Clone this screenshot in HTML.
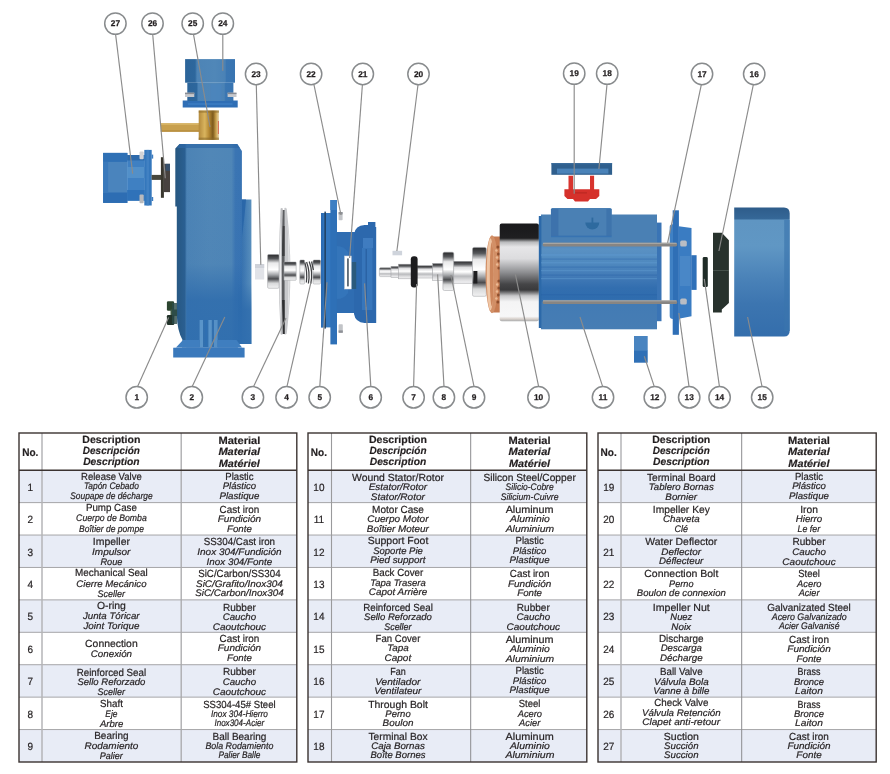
<!DOCTYPE html>
<html lang="en"><head><meta charset="utf-8"><title>Pump exploded view - parts list</title>
<style>
html,body{margin:0;padding:0;background:#fff;}
body{width:890px;height:774px;position:relative;overflow:hidden;font-family:"Liberation Sans",sans-serif;color:#231f20;}
svg{display:block}
svg text{font-family:"Liberation Sans",sans-serif;text-rendering:geometricPrecision;}
.e{fill:#231f20;stroke:#231f20;stroke-width:0.2px;}
.i{fill:#231f20;font-style:italic;stroke:#231f20;stroke-width:0.2px;}
.hb{fill:#231f20;font-weight:bold;stroke:#231f20;stroke-width:0.18px;}
.hi{fill:#231f20;font-weight:bold;font-style:italic;stroke:#231f20;stroke-width:0.18px;}
.n{fill:#231f20;stroke:#231f20;stroke-width:0.2px;}
</style></head><body>

<svg width="890" height="425" viewBox="0 0 890 425" style="position:absolute;left:0;top:0;will-change:transform">
<defs>
  <!-- horizontal blue gradients (left->right) -->
  <linearGradient id="bCase" gradientUnits="userSpaceOnUse" x1="175.4" x2="251.3" y1="0" y2="0">
    <stop offset="0" stop-color="#275780"/>
    <stop offset="0.125" stop-color="#2a5f92"/>
    <stop offset="0.15" stop-color="#4c83b5"/>
    <stop offset="0.45" stop-color="#5187b7"/>
    <stop offset="0.74" stop-color="#4f86b7"/>
    <stop offset="0.79" stop-color="#3b75b3"/>
    <stop offset="1" stop-color="#3471b2"/>
  </linearGradient>
  <linearGradient id="caseDark" x1="0" x2="0" y1="0" y2="1">
    <stop offset="0" stop-color="#2c6aab" stop-opacity="0"/>
    <stop offset="0.58" stop-color="#2c6aab" stop-opacity="0.05"/>
    <stop offset="0.76" stop-color="#2d6bac" stop-opacity="0.8"/>
    <stop offset="1" stop-color="#2e6dae" stop-opacity="0.9"/>
  </linearGradient>
  <linearGradient id="volute" x1="0" x2="1" y1="0" y2="0">
    <stop offset="0" stop-color="#2d68a6"/>
    <stop offset="0.45" stop-color="#3f79b3"/>
    <stop offset="1" stop-color="#5a90bd"/>
  </linearGradient>
  <linearGradient id="bV" x1="0" x2="0" y1="0" y2="1">
    <stop offset="0" stop-color="#3f7fbf"/>
    <stop offset="0.35" stop-color="#4a88c3"/>
    <stop offset="0.6" stop-color="#3b7bbc"/>
    <stop offset="1" stop-color="#2e70b5"/>
  </linearGradient>
  <linearGradient id="bMotor" x1="0" x2="0" y1="0" y2="1">
    <stop offset="0" stop-color="#4a80b4"/>
    <stop offset="0.24" stop-color="#4a80b4"/>
    <stop offset="0.3" stop-color="#5a91c3"/>
    <stop offset="0.42" stop-color="#4f89bf"/>
    <stop offset="0.55" stop-color="#4179b6"/>
    <stop offset="0.64" stop-color="#326eaf"/>
    <stop offset="0.73" stop-color="#2f6cae"/>
    <stop offset="0.78" stop-color="#437bb4"/>
    <stop offset="1" stop-color="#467db4"/>
  </linearGradient>
  <linearGradient id="bCover" x1="0" x2="0" y1="0" y2="1">
    <stop offset="0" stop-color="#2e5c8a"/>
    <stop offset="0.085" stop-color="#356797"/>
    <stop offset="0.10" stop-color="#5f95c2"/>
    <stop offset="0.3" stop-color="#6097c4"/>
    <stop offset="0.55" stop-color="#4a82b8"/>
    <stop offset="0.75" stop-color="#3c75b0"/>
    <stop offset="1" stop-color="#346eac"/>
  </linearGradient>
  <linearGradient id="bDis" x1="0" x2="1" y1="0" y2="0">
    <stop offset="0" stop-color="#2c6499"/>
    <stop offset="0.2" stop-color="#2d679d"/>
    <stop offset="0.24" stop-color="#4d84b6"/>
    <stop offset="0.6" stop-color="#5087b8"/>
    <stop offset="0.8" stop-color="#4a82b6"/>
    <stop offset="0.83" stop-color="#3a76b2"/>
    <stop offset="1" stop-color="#3874b1"/>
  </linearGradient>
  <linearGradient id="brass" x1="0" x2="1" y1="0" y2="0">
    <stop offset="0" stop-color="#b48a3c"/>
    <stop offset="0.3" stop-color="#d9b45e"/>
    <stop offset="0.5" stop-color="#b68a35"/>
    <stop offset="0.7" stop-color="#7d5a1c"/>
    <stop offset="0.85" stop-color="#c9a04c"/>
    <stop offset="1" stop-color="#e8d9b0"/>
  </linearGradient>
  <linearGradient id="chromeV" x1="0" x2="0" y1="0" y2="1">
    <stop offset="0" stop-color="#2a2a2c"/>
    <stop offset="0.12" stop-color="#55575a"/>
    <stop offset="0.25" stop-color="#e9e9ea"/>
    <stop offset="0.45" stop-color="#ffffff"/>
    <stop offset="0.6" stop-color="#a4a6a9"/>
    <stop offset="0.72" stop-color="#4a4b4e"/>
    <stop offset="0.85" stop-color="#d8d9da"/>
    <stop offset="1" stop-color="#f2f2f3"/>
  </linearGradient>
  <linearGradient id="shaftV" x1="0" x2="0" y1="0" y2="1">
    <stop offset="0" stop-color="#2b2b2d"/>
    <stop offset="0.14" stop-color="#5f6063"/>
    <stop offset="0.28" stop-color="#dedee0"/>
    <stop offset="0.48" stop-color="#ffffff"/>
    <stop offset="0.68" stop-color="#b9babd"/>
    <stop offset="0.84" stop-color="#dcdcde"/>
    <stop offset="1" stop-color="#f4f4f5"/>
  </linearGradient>
  <linearGradient id="statorV" x1="0" x2="0" y1="0" y2="1">
    <stop offset="0" stop-color="#19191b"/>
    <stop offset="0.15" stop-color="#1f1f21"/>
    <stop offset="0.19" stop-color="#b9babc"/>
    <stop offset="0.24" stop-color="#e6e6e8"/>
    <stop offset="0.36" stop-color="#dcdcde"/>
    <stop offset="0.5" stop-color="#8d8e91"/>
    <stop offset="0.62" stop-color="#454547"/>
    <stop offset="0.68" stop-color="#3a3a3c"/>
    <stop offset="0.74" stop-color="#c9c9cb"/>
    <stop offset="0.8" stop-color="#f4f4f5"/>
    <stop offset="0.95" stop-color="#f7f7f8"/>
    <stop offset="0.975" stop-color="#d9d2cd"/>
    <stop offset="1" stop-color="#a9aaac"/>
  </linearGradient>
  <linearGradient id="copperV" x1="0" x2="0" y1="0" y2="1">
    <stop offset="0" stop-color="#b5673a"/>
    <stop offset="0.25" stop-color="#d98a55"/>
    <stop offset="0.5" stop-color="#b96a3c"/>
    <stop offset="0.8" stop-color="#e6a070"/>
    <stop offset="1" stop-color="#f0c8a0"/>
  </linearGradient>
  <linearGradient id="impV" x1="0" x2="1" y1="0" y2="0">
    <stop offset="0" stop-color="#d9dadb"/>
    <stop offset="0.3" stop-color="#f4f4f5"/>
    <stop offset="0.5" stop-color="#6d6e71"/>
    <stop offset="0.7" stop-color="#e6e6e7"/>
    <stop offset="1" stop-color="#c4c5c7"/>
  </linearGradient>
</defs>

<!-- ================= PARTS ================= -->
<g id="parts">
  <!-- 27 suction -->
  <rect x="103.1" y="152.9" width="24.3" height="50" fill="#4a84bd"/>
  <rect x="103.1" y="152.9" width="24.3" height="9" fill="#2f70b5"/>
  <rect x="103.1" y="192.5" width="24.3" height="10.4" fill="#2d6db3"/>
  <rect x="103.1" y="161.9" width="5" height="30.6" fill="#3a79bb"/>
  <rect x="127.2" y="155" width="17.5" height="45.7" fill="#3f80c2"/>
  <rect x="127.2" y="155" width="17.5" height="5.5" fill="#2d6aab"/>
  <rect x="127.2" y="167" width="17.5" height="11" fill="#5a96cb" opacity="0.75"/>
  <rect x="127.2" y="190" width="17.5" height="10.7" fill="#2f72b9"/>
  <rect x="144.3" y="149.9" width="7.4" height="55.6" fill="#3477bc"/>
  <rect x="146.5" y="149.9" width="2.4" height="55.6" fill="#4786c6" opacity="0.7"/>
  <rect x="151.6" y="154.6" width="1.6" height="4" fill="#3c7cbf"/><rect x="151.6" y="197" width="1.6" height="4" fill="#3c7cbf"/>
  <rect x="139.5" y="151.6" width="4.2" height="7.6" rx="1" fill="#d2d3d6"/>
  <rect x="139.5" y="194.6" width="4.2" height="8.6" rx="1" fill="#b9babd"/>

  <!-- 26 check valve -->
  <rect x="151.6" y="174.9" width="10.4" height="5" fill="#47473d"/>
  <rect x="160.9" y="157.2" width="3" height="40.6" fill="#39372f"/>
  <rect x="163.8" y="163.8" width="6.2" height="28.3" fill="#48423f"/>
  <rect x="165.5" y="163.8" width="4.5" height="7" fill="#2f557f" opacity="0.7"/>

  <!-- 25 ball valve (brass) -->
  <rect x="160.8" y="123.3" width="38.5" height="8.4" fill="#c8a04e"/>
  <rect x="160.8" y="123.3" width="38.5" height="1.6" fill="#d8b567"/>
  <rect x="160.8" y="130.3" width="38.5" height="1.4" fill="#b58c3e"/>
  <rect x="198.7" y="110.5" width="20.3" height="29.4" fill="url(#brass)"/>
  <rect x="198.7" y="110.5" width="20.3" height="2.2" fill="#8a6a2a" opacity="0.55"/>
  <rect x="198.7" y="137.6" width="20.3" height="2.3" fill="#8a6a2a" opacity="0.55"/>
  <rect x="217.9" y="121" width="1.1" height="13" fill="#d2503f" opacity="0.7"/>

  <!-- 24 discharge -->
  <rect x="185.1" y="59.1" width="49.9" height="23.6" fill="url(#bDis)"/>
  <rect x="187.3" y="82.6" width="46.1" height="18.4" fill="url(#bDis)"/>
  <rect x="210.5" y="84" width="11" height="17" fill="#4a85be" opacity="0.7"/>
  <path d="M182.7,100.5 L188.2,100.5 L188.2,100.9 L232.2,100.9 L232.2,100.5 L237.7,100.5 L237.7,107.4 L182.7,107.4 Z" fill="#2f6eb5"/>
  <rect x="188" y="103.2" width="44.5" height="1.6" fill="#3f80c4" opacity="0.8"/>
  <rect x="185" y="92.7" width="9.3" height="4.3" fill="#c6c8cc"/>
  <rect x="185" y="92.7" width="9.3" height="1.4" fill="#878b93"/>
  <rect x="227.6" y="92.7" width="8.9" height="4.3" fill="#c6c8cc"/>
  <rect x="227.6" y="92.7" width="8.9" height="1.4" fill="#878b93"/>

  <!-- 2 pump case -->
  <path d="M241.5,199.6 L251.4,199.6 L251.4,344 L238,344 L238,199.6 Z" fill="url(#volute)"/>
  <path d="M241.5,199.6 L246,199.6 Q243,235 238,262 L238,199.6 Z" fill="#2a67a9"/>
  <path d="M179.5,144 L237.3,144 L241.9,151 L241.9,344 L236.5,344 L238,347.5 L182,347.5 L182.5,340 Q177,330 176.8,314 L176.8,206.4 L175.3,206.4 L175.3,148.5 Z" fill="url(#bCase)"/>
  <path d="M186.2,148 L240,148 L241.9,151 L241.9,344 L236.5,344 L238,347.5 L186.2,347.5 Z" fill="url(#caseDark)"/>
  <path d="M238,262 Q243,235 246,199.6 L251.4,199.6 L251.4,344 L238,344 Z" fill="url(#caseDark)"/>
  <path d="M179.5,144 L237.3,144 L240,148 L177,148 Z" fill="#2d68a6" opacity="0.7"/>
  <rect x="199.6" y="320" width="3.4" height="27" fill="#5a94c9"/>
  <rect x="205.4" y="320" width="1.5" height="27" fill="#2f6fb3"/>
  <rect x="208.4" y="320" width="3.4" height="27" fill="#5a94c9"/>
  <rect x="214" y="320" width="3.6" height="27" fill="#5690c6"/>
  <path d="M182,347.5 L173.2,347.7 L173.2,357.4 L244.6,357.4 L244.6,347.7 L238,347.5 Z" fill="#3a79bc"/>
  <path d="M183,340 L199.6,340 L199.6,347.6 L176,347.6 Z" fill="#3f7ebf"/>
  <path d="M217.6,340 L236.5,340 L242,347.6 L217.6,347.6 Z" fill="#3f7ebf"/>

  <!-- 1 release valve -->
  <rect x="166.9" y="301.3" width="7.2" height="9.4" rx="1.2" fill="#2c4530"/>
  <rect x="170.5" y="309.5" width="6.6" height="6.5" fill="#3f5a45"/>
  <rect x="166.9" y="315" width="7.4" height="10" rx="1.2" fill="#22332a"/>
  <rect x="172" y="303" width="5" height="21" fill="#2a4a48" opacity="0.8"/>

  <!-- 23 nut -->
  <rect x="255" y="264" width="9.2" height="15.5" fill="#e1e3e8"/>
  <rect x="255" y="264" width="9.2" height="4" fill="#cfd2d9"/>

  <!-- 3 impeller -->
  <rect x="267.6" y="254.5" width="11.5" height="33.8" rx="1.2" fill="url(#chromeV)" stroke="#a4a5a8" stroke-width="0.55"/>
  <!-- right plate -->
  <path d="M284.4,208 Q286,207.4 286.8,209 Q290.4,240 290.4,271.5 Q290.4,303 286.8,333.4 Q286,335 284.4,334.4 Z" fill="#c8c9cc"/>
  <path d="M287.6,222 Q289.6,246 289.6,271.5 Q289.6,297 287.6,321 Q288.6,297 288.6,271.5 Q288.6,246 287.6,222Z" fill="#eeeeef"/>
  <!-- gap (dark) -->
  <path d="M282.2,210 L284.6,210 L284.6,334 L282.2,334 Q281.4,300 281.4,271.5 Q281.4,242 282.2,210 Z" fill="#5d5e61"/>
  <path d="M282,300 L284.6,300 L284.6,334 L282.6,334 Q281.8,318 282,300 Z" fill="#2e2f31"/>
  <path d="M282.4,226 L284.6,226 L284.6,256 L282,256 Z" fill="#3d3e40"/>
  <!-- left plate -->
  <path d="M280.6,208.4 Q281.8,207.4 282.8,208.6 Q281.8,240 281.8,271.5 Q281.8,303 282.8,334 Q281.8,335.2 280.6,334.2 Q278.9,303 278.9,271.5 Q278.9,240 280.6,208.4 Z" fill="#bdbec1"/>
  <path d="M280.6,214 Q279.7,242 279.7,271.5 Q279.7,301 280.6,328 Q280.9,301 280.9,271.5 Q280.9,242 280.6,214 Z" fill="#f2f2f3"/>
  <rect x="284" y="262" width="12.2" height="18.3" rx="0.8" fill="url(#chromeV)" stroke="#a4a5a8" stroke-width="0.55"/>

  <!-- 4 mechanical seal -->
  <rect x="299.8" y="260" width="4.8" height="24" rx="1" fill="url(#chromeV)" stroke="#a4a5a8" stroke-width="0.55"/>
  <rect x="313" y="260" width="7.6" height="24" rx="1.2" fill="url(#chromeV)" stroke="#a4a5a8" stroke-width="0.55"/>
  <path d="M304.8,262.5 Q307.6,272 306.4,282.5 M306.6,262 Q310.4,272 308.4,283.5 M309.2,261.5 Q313.2,272 310.8,283.5 M311.6,261.5 L313.4,270" fill="none" stroke="#3f4043" stroke-width="1.25"/>

  <!-- 5 back cover / 6 connection -->
  <rect x="321" y="213" width="10" height="114.4" fill="#3478bf"/>
  <rect x="321" y="213" width="2.2" height="114.4" fill="#2b6cb4"/>
  <rect x="324.4" y="211.6" width="1.5" height="117" fill="#213f5e"/>
  <rect x="330.4" y="200" width="6.6" height="144.4" fill="#2e70b7"/>
  <rect x="330.4" y="200" width="6.6" height="10" fill="#3d7fc3"/>
  <path d="M336.8,232 L356,232 L356,313 L336.8,313 Z" fill="#2f6db2"/>
  <path d="M336.8,246 Q344,246 348,252 L348,293 Q344,299 336.8,299 Z" fill="#3475ba"/>
  <path d="M354,234 Q355.4,225.4 364.6,225 L368,225 L368,222 L375.4,222 L375.4,227 L376.2,227 L376.2,323 L364.6,323 Q355.4,322.4 354,314 Z" fill="#2c68ad"/>
  <rect x="362" y="248" width="10.4" height="62" fill="#3a79bd" opacity="0.85"/>
  <rect x="363" y="238" width="10" height="10" fill="#3f7cc0"/>
  <rect x="365.6" y="249" width="1.2" height="58" fill="#285fa0"/>
  <rect x="351.6" y="262" width="4.6" height="27" fill="#2b5873" opacity="0.85"/>
  <rect x="344.6" y="256" width="6.6" height="33" fill="#ffffff" stroke="#d5d8de" stroke-width="0.5"/>
  <rect x="347.2" y="258.4" width="1.5" height="28" fill="#3b4a57"/>
  <rect x="338.6" y="212" width="4" height="8.2" rx="0.8" fill="#c2c4c8"/>
  <rect x="338.6" y="212" width="4" height="2.4" fill="#8e9197"/>
  <rect x="338.6" y="324.2" width="4.2" height="8.6" rx="0.8" fill="#c2c4c8"/>
  <rect x="338.6" y="330.4" width="4.2" height="2.4" fill="#8e9197"/>

  <!-- 20 key -->
  <rect x="392.5" y="250.8" width="9.6" height="4.5" fill="#cfd4dc"/>

  <!-- 8 shaft -->
  <rect x="379.4" y="267.8" width="12" height="8.8" rx="1.2" fill="url(#shaftV)" stroke="#a4a5a8" stroke-width="0.55"/>
  <rect x="391" y="266.4" width="12.5" height="11" fill="url(#shaftV)" stroke="#a4a5a8" stroke-width="0.55"/>
  <rect x="398.4" y="264.2" width="13" height="14.6" fill="url(#shaftV)" stroke="#a4a5a8" stroke-width="0.55"/>
  <rect x="417" y="265.7" width="16" height="12.3" fill="url(#shaftV)" stroke="#a4a5a8" stroke-width="0.55"/>
  <rect x="432.7" y="263.5" width="10.4" height="16.8" fill="url(#shaftV)" stroke="#a4a5a8" stroke-width="0.55"/>
  <!-- 7 seal -->
  <rect x="410.8" y="256.2" width="6.8" height="31.4" rx="3" fill="#1c1c1e"/>
  <!-- 9 bearing -->
  <rect x="442.9" y="252.2" width="10.9" height="38.3" rx="1.5" fill="url(#chromeV)" stroke="#a4a5a8" stroke-width="0.55"/>
  <rect x="453.8" y="261.3" width="19" height="21.9" fill="url(#shaftV)" stroke="#a4a5a8" stroke-width="0.55"/>
  <!-- rotor end -->
  <rect x="472.5" y="247.4" width="13.8" height="48.9" rx="1.5" fill="url(#chromeV)" stroke="#a4a5a8" stroke-width="0.55"/>
  <rect x="473.4" y="271" width="4" height="12.5" fill="#1f1f21"/>
  <!-- copper windings -->
  <rect x="491" y="236.5" width="10" height="76" fill="#c67b51"/>
  <ellipse cx="492" cy="274.2" rx="6.4" ry="39" fill="#d28f66"/>
  <ellipse cx="490.4" cy="274.2" rx="3.6" ry="36" fill="#efc5a4"/>
  <ellipse cx="491.8" cy="274.2" rx="2" ry="32" fill="#cd865c"/>
  <g fill="#8f4e2c">
    <circle cx="498" cy="247" r="1.6"/><circle cx="498.6" cy="254" r="1.6"/><circle cx="499" cy="261" r="1.6"/><circle cx="499" cy="268" r="1.6"/>
    <circle cx="499" cy="281" r="1.6"/><circle cx="499" cy="288" r="1.6"/><circle cx="498.6" cy="295" r="1.6"/><circle cx="498" cy="302" r="1.6"/>
  </g>
  <g fill="#eab892">
    <circle cx="496.4" cy="250.5" r="1.3"/><circle cx="497" cy="257.5" r="1.3"/><circle cx="497.2" cy="264.5" r="1.3"/><circle cx="497.2" cy="284.5" r="1.3"/><circle cx="497" cy="291.5" r="1.3"/><circle cx="496.4" cy="298.5" r="1.3"/>
  </g>
  <!-- 10 stator -->
  <rect x="499.7" y="223.5" width="39.2" height="97.8" rx="2" fill="url(#statorV)"/>

  <!-- 11 motor case -->
  <rect x="550.9" y="208.1" width="60.8" height="30" rx="1.5" fill="#4a80b4"/>
  <rect x="541" y="214.5" width="116" height="114.8" fill="url(#bMotor)"/>
  <rect x="538.8" y="216" width="2.6" height="112" fill="#2c69a9"/>
  <rect x="657" y="222.6" width="4.5" height="98.6" fill="#3a74b5"/>
  <rect x="551" y="235.6" width="60.6" height="1.6" fill="#2f6db0" opacity="0.7"/>
  <rect x="551" y="209" width="7.4" height="27" fill="#3b70aa" opacity="0.85"/>
  <rect x="606.4" y="209" width="5.2" height="27" fill="#3b70aa" opacity="0.75"/>
  <path d="M585.3,222.6 a7,6.8 0 1,0 14,0 Z" fill="#2e6a9f"/>
  <rect x="591.5" y="217.6" width="1.8" height="5.4" fill="#2e6a9f"/>
  <g fill="#5c97cd" opacity="0.55">
    <rect x="541" y="254" width="116" height="2.2"/><rect x="541" y="262" width="116" height="1.4"/><rect x="541" y="270" width="116" height="1.2"/><rect x="541" y="278" width="116" height="1.2"/>
  </g>
  <g fill="#255fa6" opacity="0.35">
    <rect x="541" y="258.5" width="116" height="1.2"/><rect x="541" y="266.5" width="116" height="1.2"/><rect x="541" y="274.5" width="116" height="1.2"/><rect x="541" y="294" width="116" height="1.4"/>
  </g>

  <!-- 12 support foot -->
  <rect x="634" y="336" width="13.7" height="15" fill="#4984c0"/>
  <rect x="634" y="350.7" width="13.7" height="12" fill="#2f70b6"/>

  <!-- 13 back cover -->
  <rect x="672.7" y="210.3" width="6.2" height="124.5" fill="#2f6fb6"/>
  <path d="M669.7,227 Q669.7,224.3 673,224.3 L673,319 Q669.7,319 669.7,316 Z" fill="#4081c4"/>
  <path d="M678.7,226.2 L691.5,228 L691.5,316.2 L678.7,318.8 Z" fill="#3a7cc2"/>
  <path d="M680,256 L690.5,256 L690.5,286 L680,286 Z" fill="#5590cc" opacity="0.55"/>
  <rect x="691.3" y="255.2" width="5.3" height="34.7" fill="#2f70b8"/>
  <rect x="680.2" y="240.6" width="6.6" height="6" rx="1.6" fill="#b9bdc4"/>
  <rect x="680.2" y="298.6" width="6.6" height="6" rx="1.6" fill="#b9bdc4"/>

  <!-- 17 through bolts (over back cover flange) -->
  <g>
    <rect x="542.6" y="242.8" width="134.6" height="3.6" rx="1.6" fill="#878583"/>
    <rect x="543" y="242.8" width="133.6" height="0.9" fill="#b4b2af"/>
    <rect x="542.6" y="300.4" width="134.6" height="3.6" rx="1.6" fill="#878583"/>
    <rect x="543" y="300.4" width="133.6" height="0.9" fill="#b4b2af"/>
  </g>
  <!-- 14 seal -->
  <rect x="702.7" y="257.1" width="5.1" height="30" rx="1.4" fill="#1f2c27"/>
  <!-- 16 fan -->
  <path d="M713,232.8 L721.8,232.8 L728.9,240.3 L728.9,303 L721.8,309.5 L721.8,312.4 L713,312.4 Z" fill="#28322d"/>
  <rect x="713" y="270" width="16" height="1" fill="#5a655f" opacity="0.6"/>
  <!-- 15 fan cover -->
  <path d="M734.2,207.5 L784,207.5 Q789.7,207.5 789.7,213.5 L789.7,330.5 Q789.7,336.5 784,336.5 L734.2,336.5 Z" fill="url(#bCover)"/>
  <rect x="784.2" y="220" width="5.6" height="111" fill="#3a74ae" opacity="0.65"/>

  <!-- 18 terminal box -->
  <rect x="551.4" y="163.1" width="60.7" height="11.7" fill="#2f5f8d"/>
  <rect x="557" y="168.6" width="51.4" height="5" fill="#4a82b8"/>
  <rect x="551.4" y="163.1" width="60.7" height="1.2" fill="#3a6c9c"/>
  <!-- 19 terminal board -->
  <rect x="568.5" y="175.7" width="4.6" height="15" fill="#d8342e"/>
  <rect x="590" y="175.7" width="4.1" height="15" fill="#d8342e"/>
  <path d="M564.4,189.3 L599.3,189.3 L599.3,196 L596,199 L590,199 L588,201.5 L575,201.5 L573,199 L567.5,199 L564.4,196 Z" fill="#d5312b"/>
  <rect x="575" y="192" width="12" height="1.6" fill="#b52620" opacity="0.6"/>
</g>

<!-- ================= LEADERS ================= -->
<g id="leaders" stroke="#8b8b8b" stroke-width="1.15" fill="none">
  <line x1="115.6" y1="34.4" x2="132.7" y2="173.8"/>
  <line x1="152.7" y1="34.4" x2="165.3" y2="178.3"/>
  <line x1="193.5" y1="34.4" x2="210" y2="127"/>
  <line x1="222.8" y1="34.4" x2="222.8" y2="70.8"/>
  <line x1="256.3" y1="85" x2="260.8" y2="264.8"/>
  <line x1="314" y1="84.8" x2="341" y2="215"/>
  <line x1="362.4" y1="84.8" x2="349.6" y2="258"/>
  <line x1="418" y1="84.8" x2="396.9" y2="251"/>
  <line x1="574.2" y1="84.4" x2="574.2" y2="193.8"/>
  <line x1="607" y1="84.4" x2="598.9" y2="169"/>
  <line x1="701.3" y1="84.8" x2="667.6" y2="242.8"/>
  <line x1="753.3" y1="84.8" x2="718.9" y2="251"/>

  <line x1="137.6" y1="386.4" x2="168.6" y2="317.4"/>
  <line x1="192.2" y1="386.4" x2="224.8" y2="317"/>
  <line x1="253.6" y1="386.4" x2="286" y2="318"/>
  <line x1="287" y1="386.4" x2="311" y2="282.2"/>
  <line x1="319.8" y1="386.4" x2="327" y2="282.2"/>
  <line x1="370.8" y1="386.4" x2="364.6" y2="283.4"/>
  <line x1="413.6" y1="386.4" x2="416.6" y2="284"/>
  <line x1="444" y1="386.4" x2="437.6" y2="274.4"/>
  <line x1="474" y1="386.4" x2="450.9" y2="275"/>
  <line x1="538.6" y1="386.4" x2="515.4" y2="274.4"/>
  <line x1="602.6" y1="386.4" x2="580" y2="317"/>
  <line x1="654.2" y1="386.4" x2="644.3" y2="356.3"/>
  <line x1="689" y1="386.4" x2="678.9" y2="313"/>
  <line x1="719.4" y1="386.4" x2="704.3" y2="278.8"/>
  <line x1="762" y1="386.4" x2="747.6" y2="317"/>
</g>

<!-- ================= CALLOUTS ================= -->
<g id="callouts" font-family="Liberation Sans, sans-serif" font-weight="bold" font-size="8.3" fill="#231f20" stroke="#231f20" stroke-width="0.25" text-anchor="middle" style="text-rendering:geometricPrecision">
  <g fill="#ffffff" stroke="#888b8d" stroke-width="1.5">
    <circle cx="115.4" cy="23.6" r="10.7"/><circle cx="152.5" cy="23.6" r="10.7"/><circle cx="192.7" cy="23.6" r="10.7"/><circle cx="222.8" cy="23.6" r="10.7"/>
    <circle cx="256.1" cy="74" r="10.7"/><circle cx="311.1" cy="74" r="10.7"/><circle cx="362.8" cy="74" r="10.7"/><circle cx="418.5" cy="74" r="10.7"/>
    <circle cx="574.2" cy="73.6" r="10.7"/><circle cx="607.2" cy="73.6" r="10.7"/><circle cx="702" cy="74" r="10.7"/><circle cx="754.2" cy="74" r="10.7"/>
    <circle cx="136.7" cy="397.3" r="10.7"/><circle cx="191.8" cy="397.3" r="10.7"/><circle cx="252.9" cy="397.3" r="10.7"/><circle cx="286.6" cy="397.3" r="10.7"/>
    <circle cx="319.7" cy="397.3" r="10.7"/><circle cx="370.7" cy="397.3" r="10.7"/><circle cx="413.6" cy="397.3" r="10.7"/><circle cx="443.9" cy="397.3" r="10.7"/>
    <circle cx="474" cy="397.3" r="10.7"/><circle cx="538.5" cy="397.3" r="10.7"/><circle cx="603" cy="397.3" r="10.7"/><circle cx="654.8" cy="397.3" r="10.7"/>
    <circle cx="689.2" cy="397.3" r="10.7"/><circle cx="719.6" cy="397.3" r="10.7"/><circle cx="762.2" cy="397.3" r="10.7"/>
  </g>
  <text x="115.4" y="26.1">27</text><text x="152.5" y="26.1">26</text><text x="192.7" y="26.1">25</text><text x="222.8" y="26.1">24</text>
  <text x="256.1" y="76.5">23</text><text x="311.1" y="76.5">22</text><text x="362.8" y="76.5">21</text><text x="418.5" y="76.5">20</text>
  <text x="574.2" y="76.1">19</text><text x="607.2" y="76.1">18</text><text x="702" y="76.5">17</text><text x="754.2" y="76.5">16</text>
  <text x="136.7" y="399.8">1</text><text x="191.8" y="399.8">2</text><text x="252.9" y="399.8">3</text><text x="286.6" y="399.8">4</text>
  <text x="319.7" y="399.8">5</text><text x="370.7" y="399.8">6</text><text x="413.6" y="399.8">7</text><text x="443.9" y="399.8">8</text>
  <text x="474" y="399.8">9</text><text x="538.5" y="399.8">10</text><text x="603" y="399.8">11</text><text x="654.8" y="399.8">12</text>
  <text x="689.2" y="399.8">13</text><text x="719.6" y="399.8">14</text><text x="762.2" y="399.8">15</text>
</g>
</svg>

<svg width="890" height="774" viewBox="0 0 890 774" style="position:absolute;left:0;top:0;will-change:transform">
<g id="table1">
<rect x="19.0" y="470.20" width="277.80" height="32.42" fill="#e8ecf6"/>
<rect x="19.0" y="535.04" width="277.80" height="32.42" fill="#e8ecf6"/>
<rect x="19.0" y="599.88" width="277.80" height="32.42" fill="#e8ecf6"/>
<rect x="19.0" y="664.72" width="277.80" height="32.42" fill="#e8ecf6"/>
<rect x="19.0" y="729.56" width="277.80" height="32.42" fill="#e8ecf6"/>
<line x1="19.0" x2="296.8" y1="502.62" y2="502.62" stroke="#a6a6a8" stroke-width="1.0"/>
<line x1="19.0" x2="296.8" y1="535.04" y2="535.04" stroke="#a6a6a8" stroke-width="1.0"/>
<line x1="19.0" x2="296.8" y1="567.46" y2="567.46" stroke="#a6a6a8" stroke-width="1.0"/>
<line x1="19.0" x2="296.8" y1="599.88" y2="599.88" stroke="#a6a6a8" stroke-width="1.0"/>
<line x1="19.0" x2="296.8" y1="632.30" y2="632.30" stroke="#a6a6a8" stroke-width="1.0"/>
<line x1="19.0" x2="296.8" y1="664.72" y2="664.72" stroke="#a6a6a8" stroke-width="1.0"/>
<line x1="19.0" x2="296.8" y1="697.14" y2="697.14" stroke="#a6a6a8" stroke-width="1.0"/>
<line x1="19.0" x2="296.8" y1="729.56" y2="729.56" stroke="#a6a6a8" stroke-width="1.0"/>
<line x1="42.0" x2="42.0" y1="433.0" y2="762.0" stroke="#b5b5b7" stroke-width="1.5"/>
<line x1="181.2" x2="181.2" y1="433.0" y2="762.0" stroke="#a8a8aa" stroke-width="1.3"/>
<line x1="19.0" x2="296.8" y1="470.2" y2="470.2" stroke="#3b3331" stroke-width="1.6"/>
<rect x="19.0" y="433.0" width="277.80" height="329.00" fill="none" stroke="#3b3331" stroke-width="1.4"/>
<text class="hb" font-size="10.8" transform="translate(30.30,455.80) scale(0.932,1)" x="-8.69" y="0">No.</text>
<text class="hb" font-size="10.4" transform="translate(111.40,443.10) scale(1.016,1)" x="-28.60" y="0">Description</text>
<text class="hi" font-size="10.4" transform="translate(111.40,454.40) scale(0.959,1)" x="-29.77" y="0">Descripción</text>
<text class="hi" font-size="10.4" transform="translate(111.40,465.40) scale(0.988,1)" x="-28.60" y="0">Description</text>
<text class="hb" font-size="10.4" transform="translate(239.40,444.00) scale(1.068,1)" x="-19.66" y="0">Material</text>
<text class="hi" font-size="10.4" transform="translate(239.40,455.30) scale(1.063,1)" x="-19.75" y="0">Material</text>
<text class="hi" font-size="10.4" transform="translate(239.40,466.60) scale(1.046,1)" x="-19.75" y="0">Matériel</text>
<text class="n" font-size="10.5" transform="translate(30.30,490.71) scale(0.950,1)" x="-2.91" y="0">1</text>
<text class="e" font-size="10.3" transform="translate(111.40,479.80) scale(0.924,1)" x="-32.83" y="0">Release Valve</text>
<text class="i" font-size="9.5" transform="translate(111.40,489.40) scale(0.887,1)" x="-30.99" y="0">Tapón Cebado</text>
<text class="i" font-size="9.5" transform="translate(111.40,498.80) scale(0.880,1)" x="-46.75" y="0">Soupape de décharge</text>
<text class="e" font-size="10.3" transform="translate(239.40,479.80) scale(0.930,1)" x="-15.17" y="0">Plastic</text>
<text class="i" font-size="9.5" transform="translate(239.40,489.40) scale(1.007,1)" x="-16.64" y="0">Plástico</text>
<text class="i" font-size="9.5" transform="translate(239.40,498.80) scale(1.023,1)" x="-19.55" y="0">Plastique</text>
<text class="n" font-size="10.5" transform="translate(30.30,523.13) scale(0.950,1)" x="-2.91" y="0">2</text>
<text class="e" font-size="10.3" transform="translate(111.40,511.00) scale(0.948,1)" x="-26.91" y="0">Pump Case</text>
<text class="i" font-size="9.5" transform="translate(111.40,521.30) scale(0.916,1)" x="-38.56" y="0">Cuerpo de Bomba</text>
<text class="i" font-size="9.5" transform="translate(111.40,531.50) scale(0.897,1)" x="-36.17" y="0">Boîtier de pompe</text>
<text class="e" font-size="10.3" transform="translate(239.40,513.20) scale(0.961,1)" x="-20.61" y="0">Cast iron</text>
<text class="i" font-size="9.5" transform="translate(239.40,522.40) scale(1.051,1)" x="-20.59" y="0">Fundición</text>
<text class="i" font-size="9.5" transform="translate(239.40,532.00) scale(1.021,1)" x="-12.15" y="0">Fonte</text>
<text class="n" font-size="10.5" transform="translate(30.30,555.55) scale(0.950,1)" x="-2.91" y="0">3</text>
<text class="e" font-size="10.3" transform="translate(111.40,544.90) scale(1.015,1)" x="-18.32" y="0">Impeller</text>
<text class="i" font-size="9.5" transform="translate(111.40,555.10) scale(1.055,1)" x="-18.38" y="0">Impulsor</text>
<text class="i" font-size="9.5" transform="translate(111.40,565.40) scale(0.969,1)" x="-11.35" y="0">Roue</text>
<text class="e" font-size="10.3" transform="translate(239.40,545.00) scale(0.951,1)" x="-37.50" y="0">SS304/Cast iron</text>
<text class="i" font-size="9.5" transform="translate(239.40,554.80) scale(1.050,1)" x="-40.14" y="0">Inox 304/Fundición</text>
<text class="i" font-size="9.5" transform="translate(239.40,564.60) scale(1.036,1)" x="-31.69" y="0">Inox 304/Fonte</text>
<text class="n" font-size="10.5" transform="translate(30.30,587.97) scale(0.950,1)" x="-2.91" y="0">4</text>
<text class="e" font-size="10.3" transform="translate(111.40,576.40) scale(0.963,1)" x="-37.79" y="0">Mechanical Seal</text>
<text class="i" font-size="9.5" transform="translate(111.40,586.80) scale(1.016,1)" x="-34.58" y="0">Cierre Mecánico</text>
<text class="i" font-size="9.5" transform="translate(111.40,597.00) scale(0.947,1)" x="-14.68" y="0">Sceller</text>
<text class="e" font-size="10.3" transform="translate(239.40,577.00) scale(0.947,1)" x="-43.52" y="0">SiC/Carbon/SS304</text>
<text class="i" font-size="9.5" transform="translate(239.40,586.50) scale(1.047,1)" x="-41.46" y="0">SiC/Grafito/Inox304</text>
<text class="i" font-size="9.5" transform="translate(239.40,596.10) scale(1.035,1)" x="-42.77" y="0">SiC/Carbon/Inox304</text>
<text class="n" font-size="10.5" transform="translate(30.30,620.39) scale(0.950,1)" x="-2.91" y="0">5</text>
<text class="e" font-size="10.3" transform="translate(111.40,609.00) scale(1.014,1)" x="-14.30" y="0">O-ring</text>
<text class="i" font-size="9.5" transform="translate(111.40,619.10) scale(1.022,1)" x="-27.87" y="0">Junta Tóricar</text>
<text class="i" font-size="9.5" transform="translate(111.40,629.20) scale(1.036,1)" x="-27.02" y="0">Joint Torique</text>
<text class="e" font-size="10.3" transform="translate(239.40,610.60) scale(0.974,1)" x="-16.89" y="0">Rubber</text>
<text class="i" font-size="9.5" transform="translate(239.40,619.90) scale(1.023,1)" x="-16.38" y="0">Caucho</text>
<text class="i" font-size="9.5" transform="translate(239.40,629.70) scale(1.053,1)" x="-25.35" y="0">Caoutchouc</text>
<text class="n" font-size="10.5" transform="translate(30.30,652.81) scale(0.950,1)" x="-2.91" y="0">6</text>
<text class="e" font-size="10.3" transform="translate(111.40,646.50) scale(1.009,1)" x="-26.06" y="0">Connection</text>
<text class="i" font-size="9.5" transform="translate(111.40,656.70) scale(1.029,1)" x="-20.07" y="0">Conexión</text>
<text class="e" font-size="10.3" transform="translate(239.40,641.80) scale(0.961,1)" x="-20.61" y="0">Cast iron</text>
<text class="i" font-size="9.5" transform="translate(239.40,651.10) scale(1.051,1)" x="-20.59" y="0">Fundición</text>
<text class="i" font-size="9.5" transform="translate(239.40,660.70) scale(1.021,1)" x="-12.15" y="0">Fonte</text>
<text class="n" font-size="10.5" transform="translate(30.30,685.23) scale(0.950,1)" x="-2.91" y="0">7</text>
<text class="e" font-size="10.3" transform="translate(111.40,675.50) scale(0.947,1)" x="-36.64" y="0">Reinforced Seal</text>
<text class="i" font-size="9.5" transform="translate(111.40,685.10) scale(1.005,1)" x="-33.80" y="0">Sello Reforzado</text>
<text class="i" font-size="9.5" transform="translate(111.40,694.60) scale(0.947,1)" x="-14.68" y="0">Sceller</text>
<text class="e" font-size="10.3" transform="translate(239.40,675.20) scale(0.974,1)" x="-16.89" y="0">Rubber</text>
<text class="i" font-size="9.5" transform="translate(239.40,684.80) scale(1.023,1)" x="-16.38" y="0">Caucho</text>
<text class="i" font-size="9.5" transform="translate(239.40,694.60) scale(1.053,1)" x="-25.35" y="0">Caoutchouc</text>
<text class="n" font-size="10.5" transform="translate(30.30,717.65) scale(0.950,1)" x="-2.91" y="0">8</text>
<text class="e" font-size="10.3" transform="translate(111.40,707.20) scale(0.952,1)" x="-12.03" y="0">Shaft</text>
<text class="i" font-size="9.5" transform="translate(111.40,717.30) scale(0.881,1)" x="-6.86" y="0">Eje</text>
<text class="i" font-size="9.5" transform="translate(111.40,726.90) scale(1.008,1)" x="-11.38" y="0">Arbre</text>
<text class="e" font-size="10.3" transform="translate(239.40,707.60) scale(0.931,1)" x="-38.95" y="0">SS304-45# Steel</text>
<text class="i" font-size="9.5" transform="translate(239.40,717.20) scale(0.871,1)" x="-32.74" y="0">Inox 304-Hierro</text>
<text class="i" font-size="9.5" transform="translate(239.40,726.40) scale(0.848,1)" x="-29.47" y="0">Inox304-Acier</text>
<text class="n" font-size="10.5" transform="translate(30.30,750.07) scale(0.950,1)" x="-2.91" y="0">9</text>
<text class="e" font-size="10.3" transform="translate(111.40,739.20) scale(0.969,1)" x="-17.75" y="0">Bearing</text>
<text class="i" font-size="9.5" transform="translate(111.40,749.00) scale(1.052,1)" x="-25.61" y="0">Rodamiento</text>
<text class="i" font-size="9.5" transform="translate(111.40,758.80) scale(0.947,1)" x="-12.30" y="0">Palier</text>
<text class="e" font-size="10.3" transform="translate(239.40,739.50) scale(0.970,1)" x="-27.77" y="0">Ball Bearing</text>
<text class="i" font-size="9.5" transform="translate(239.40,749.00) scale(0.933,1)" x="-36.44" y="0">Bola Rodamiento</text>
<text class="i" font-size="9.5" transform="translate(239.40,758.40) scale(0.874,1)" x="-24.02" y="0">Palier Balle</text>
</g>
<g id="table2">
<rect x="308.0" y="470.20" width="278.80" height="32.42" fill="#e8ecf6"/>
<rect x="308.0" y="535.04" width="278.80" height="32.42" fill="#e8ecf6"/>
<rect x="308.0" y="599.88" width="278.80" height="32.42" fill="#e8ecf6"/>
<rect x="308.0" y="664.72" width="278.80" height="32.42" fill="#e8ecf6"/>
<rect x="308.0" y="729.56" width="278.80" height="32.42" fill="#e8ecf6"/>
<line x1="308.0" x2="586.8" y1="502.62" y2="502.62" stroke="#a6a6a8" stroke-width="1.0"/>
<line x1="308.0" x2="586.8" y1="535.04" y2="535.04" stroke="#a6a6a8" stroke-width="1.0"/>
<line x1="308.0" x2="586.8" y1="567.46" y2="567.46" stroke="#a6a6a8" stroke-width="1.0"/>
<line x1="308.0" x2="586.8" y1="599.88" y2="599.88" stroke="#a6a6a8" stroke-width="1.0"/>
<line x1="308.0" x2="586.8" y1="632.30" y2="632.30" stroke="#a6a6a8" stroke-width="1.0"/>
<line x1="308.0" x2="586.8" y1="664.72" y2="664.72" stroke="#a6a6a8" stroke-width="1.0"/>
<line x1="308.0" x2="586.8" y1="697.14" y2="697.14" stroke="#a6a6a8" stroke-width="1.0"/>
<line x1="308.0" x2="586.8" y1="729.56" y2="729.56" stroke="#a6a6a8" stroke-width="1.0"/>
<line x1="331.5" x2="331.5" y1="433.0" y2="762.0" stroke="#9a9a9c" stroke-width="1.1"/>
<line x1="470.7" x2="470.7" y1="433.0" y2="762.0" stroke="#8c8c8e" stroke-width="1.0"/>
<line x1="308.0" x2="586.8" y1="470.2" y2="470.2" stroke="#3b3331" stroke-width="1.6"/>
<rect x="308.0" y="433.0" width="278.80" height="329.00" fill="none" stroke="#3b3331" stroke-width="1.4"/>
<text class="hb" font-size="10.8" transform="translate(318.90,455.80) scale(0.932,1)" x="-8.69" y="0">No.</text>
<text class="hb" font-size="10.4" transform="translate(398.00,443.10) scale(1.016,1)" x="-28.60" y="0">Description</text>
<text class="hi" font-size="10.4" transform="translate(398.00,454.40) scale(0.959,1)" x="-29.77" y="0">Descripción</text>
<text class="hi" font-size="10.4" transform="translate(398.00,465.40) scale(0.988,1)" x="-28.60" y="0">Description</text>
<text class="hb" font-size="10.4" transform="translate(529.60,444.00) scale(1.068,1)" x="-19.66" y="0">Material</text>
<text class="hi" font-size="10.4" transform="translate(529.60,455.30) scale(1.063,1)" x="-19.75" y="0">Material</text>
<text class="hi" font-size="10.4" transform="translate(529.60,466.60) scale(1.046,1)" x="-19.75" y="0">Matériel</text>
<text class="n" font-size="10.5" transform="translate(318.90,490.71) scale(0.950,1)" x="-5.84" y="0">10</text>
<text class="e" font-size="10.3" transform="translate(398.00,480.60) scale(1.012,1)" x="-45.42" y="0">Wound Stator/Rotor</text>
<text class="i" font-size="9.5" transform="translate(398.00,490.20) scale(1.043,1)" x="-28.14" y="0">Estator/Rotor</text>
<text class="i" font-size="9.5" transform="translate(398.00,499.70) scale(1.056,1)" x="-25.77" y="0">Stator/Rotor</text>
<text class="e" font-size="10.3" transform="translate(529.60,480.60) scale(0.990,1)" x="-46.66" y="0">Silicon Steel/Copper</text>
<text class="i" font-size="9.5" transform="translate(529.60,490.20) scale(0.892,1)" x="-26.92" y="0">Silicio-Cobre</text>
<text class="i" font-size="9.5" transform="translate(529.60,499.70) scale(0.913,1)" x="-31.67" y="0">Silicium-Cuivre</text>
<text class="n" font-size="10.5" transform="translate(318.90,523.13) scale(0.950,1)" x="-5.45" y="0">11</text>
<text class="e" font-size="10.3" transform="translate(398.00,512.70) scale(0.975,1)" x="-26.61" y="0">Motor Case</text>
<text class="i" font-size="9.5" transform="translate(398.00,522.30) scale(1.056,1)" x="-29.20" y="0">Cuerpo Motor</text>
<text class="i" font-size="9.5" transform="translate(398.00,532.00) scale(1.040,1)" x="-30.00" y="0">Boîtier Moteur</text>
<text class="e" font-size="10.3" transform="translate(529.60,512.70) scale(1.048,1)" x="-22.89" y="0">Aluminum</text>
<text class="i" font-size="9.5" transform="translate(529.60,522.30) scale(1.092,1)" x="-17.98" y="0">Aluminio</text>
<text class="i" font-size="9.5" transform="translate(529.60,531.70) scale(1.091,1)" x="-21.93" y="0">Aluminium</text>
<text class="n" font-size="10.5" transform="translate(318.90,555.55) scale(0.950,1)" x="-5.84" y="0">12</text>
<text class="e" font-size="10.3" transform="translate(398.00,544.20) scale(1.019,1)" x="-29.78" y="0">Support Foot</text>
<text class="i" font-size="9.5" transform="translate(398.00,553.60) scale(0.999,1)" x="-24.82" y="0">Soporte Pie</text>
<text class="i" font-size="9.5" transform="translate(398.00,563.20) scale(1.036,1)" x="-26.84" y="0">Pied support</text>
<text class="e" font-size="10.3" transform="translate(529.60,544.20) scale(0.930,1)" x="-15.17" y="0">Plastic</text>
<text class="i" font-size="9.5" transform="translate(529.60,553.60) scale(1.007,1)" x="-16.64" y="0">Plástico</text>
<text class="i" font-size="9.5" transform="translate(529.60,563.20) scale(1.023,1)" x="-19.55" y="0">Plastique</text>
<text class="n" font-size="10.5" transform="translate(318.90,587.97) scale(0.950,1)" x="-5.84" y="0">13</text>
<text class="e" font-size="10.3" transform="translate(398.00,576.20) scale(0.951,1)" x="-26.61" y="0">Back Cover</text>
<text class="i" font-size="9.5" transform="translate(398.00,585.70) scale(1.003,1)" x="-27.73" y="0">Tapa Trasera</text>
<text class="i" font-size="9.5" transform="translate(398.00,595.30) scale(1.038,1)" x="-28.07" y="0">Capot Arrière</text>
<text class="e" font-size="10.3" transform="translate(529.60,577.20) scale(0.961,1)" x="-20.61" y="0">Cast iron</text>
<text class="i" font-size="9.5" transform="translate(529.60,586.50) scale(1.051,1)" x="-20.59" y="0">Fundición</text>
<text class="i" font-size="9.5" transform="translate(529.60,596.10) scale(1.021,1)" x="-12.15" y="0">Fonte</text>
<text class="n" font-size="10.5" transform="translate(318.90,620.39) scale(0.950,1)" x="-5.84" y="0">14</text>
<text class="e" font-size="10.3" transform="translate(398.00,610.60) scale(0.952,1)" x="-36.64" y="0">Reinforced Seal</text>
<text class="i" font-size="9.5" transform="translate(398.00,620.20) scale(1.003,1)" x="-33.80" y="0">Sello Reforzado</text>
<text class="i" font-size="9.5" transform="translate(398.00,629.70) scale(0.940,1)" x="-14.68" y="0">Sceller</text>
<text class="e" font-size="10.3" transform="translate(533.30,610.60) scale(0.974,1)" x="-16.89" y="0">Rubber</text>
<text class="i" font-size="9.5" transform="translate(533.30,619.90) scale(1.029,1)" x="-16.38" y="0">Caucho</text>
<text class="i" font-size="9.5" transform="translate(533.30,629.70) scale(1.057,1)" x="-25.35" y="0">Caoutchouc</text>
<text class="n" font-size="10.5" transform="translate(318.90,652.81) scale(0.950,1)" x="-5.84" y="0">15</text>
<text class="e" font-size="10.3" transform="translate(398.00,641.80) scale(0.932,1)" x="-24.04" y="0">Fan Cover</text>
<text class="i" font-size="9.5" transform="translate(398.00,651.10) scale(1.039,1)" x="-10.39" y="0">Tapa</text>
<text class="i" font-size="9.5" transform="translate(398.00,660.70) scale(1.052,1)" x="-12.84" y="0">Capot</text>
<text class="e" font-size="10.3" transform="translate(529.60,642.70) scale(1.048,1)" x="-22.89" y="0">Aluminum</text>
<text class="i" font-size="9.5" transform="translate(529.60,652.30) scale(1.092,1)" x="-17.98" y="0">Aluminio</text>
<text class="i" font-size="9.5" transform="translate(529.60,661.70) scale(1.091,1)" x="-21.93" y="0">Aluminium</text>
<text class="n" font-size="10.5" transform="translate(318.90,685.23) scale(0.950,1)" x="-5.84" y="0">16</text>
<text class="e" font-size="10.3" transform="translate(398.00,675.00) scale(0.874,1)" x="-8.87" y="0">Fan</text>
<text class="i" font-size="9.5" transform="translate(398.00,684.80) scale(1.064,1)" x="-21.38" y="0">Ventilador</text>
<text class="i" font-size="9.5" transform="translate(398.00,694.40) scale(1.047,1)" x="-22.69" y="0">Ventilateur</text>
<text class="e" font-size="10.3" transform="translate(529.60,673.80) scale(0.930,1)" x="-15.17" y="0">Plastic</text>
<text class="i" font-size="9.5" transform="translate(529.60,683.50) scale(1.007,1)" x="-16.64" y="0">Plástico</text>
<text class="i" font-size="9.5" transform="translate(529.60,692.90) scale(1.023,1)" x="-19.55" y="0">Plastique</text>
<text class="n" font-size="10.5" transform="translate(318.90,717.65) scale(0.950,1)" x="-5.84" y="0">17</text>
<text class="e" font-size="10.3" transform="translate(398.00,707.60) scale(1.012,1)" x="-29.48" y="0">Through Bolt</text>
<text class="i" font-size="9.5" transform="translate(398.00,717.20) scale(0.998,1)" x="-12.67" y="0">Perno</text>
<text class="i" font-size="9.5" transform="translate(398.00,726.40) scale(1.041,1)" x="-14.80" y="0">Boulon</text>
<text class="e" font-size="10.3" transform="translate(529.60,707.20) scale(0.924,1)" x="-11.74" y="0">Steel</text>
<text class="i" font-size="9.5" transform="translate(529.60,717.20) scale(0.980,1)" x="-12.17" y="0">Acero</text>
<text class="i" font-size="9.5" transform="translate(529.60,726.40) scale(0.976,1)" x="-10.75" y="0">Acier</text>
<text class="n" font-size="10.5" transform="translate(318.90,750.07) scale(0.950,1)" x="-5.84" y="0">18</text>
<text class="e" font-size="10.3" transform="translate(398.00,739.50) scale(0.991,1)" x="-29.77" y="0">Terminal Box</text>
<text class="i" font-size="9.5" transform="translate(398.00,749.00) scale(1.025,1)" x="-26.14" y="0">Caja Bornas</text>
<text class="i" font-size="9.5" transform="translate(398.00,758.40) scale(1.001,1)" x="-27.47" y="0">Boîte Bornes</text>
<text class="e" font-size="10.3" transform="translate(529.60,739.50) scale(1.053,1)" x="-22.89" y="0">Aluminum</text>
<text class="i" font-size="9.5" transform="translate(529.60,749.00) scale(1.095,1)" x="-17.98" y="0">Aluminio</text>
<text class="i" font-size="9.5" transform="translate(529.60,758.40) scale(1.105,1)" x="-21.93" y="0">Aluminium</text>
</g>
<g id="table3">
<rect x="598.0" y="470.20" width="278.20" height="32.42" fill="#e8ecf6"/>
<rect x="598.0" y="535.04" width="278.20" height="32.42" fill="#e8ecf6"/>
<rect x="598.0" y="599.88" width="278.20" height="32.42" fill="#e8ecf6"/>
<rect x="598.0" y="664.72" width="278.20" height="32.42" fill="#e8ecf6"/>
<rect x="598.0" y="729.56" width="278.20" height="32.42" fill="#e8ecf6"/>
<line x1="598.0" x2="876.2" y1="502.62" y2="502.62" stroke="#a6a6a8" stroke-width="1.0"/>
<line x1="598.0" x2="876.2" y1="535.04" y2="535.04" stroke="#a6a6a8" stroke-width="1.0"/>
<line x1="598.0" x2="876.2" y1="567.46" y2="567.46" stroke="#a6a6a8" stroke-width="1.0"/>
<line x1="598.0" x2="876.2" y1="599.88" y2="599.88" stroke="#a6a6a8" stroke-width="1.0"/>
<line x1="598.0" x2="876.2" y1="632.30" y2="632.30" stroke="#a6a6a8" stroke-width="1.0"/>
<line x1="598.0" x2="876.2" y1="664.72" y2="664.72" stroke="#a6a6a8" stroke-width="1.0"/>
<line x1="598.0" x2="876.2" y1="697.14" y2="697.14" stroke="#a6a6a8" stroke-width="1.0"/>
<line x1="598.0" x2="876.2" y1="729.56" y2="729.56" stroke="#a6a6a8" stroke-width="1.0"/>
<line x1="621.0" x2="621.0" y1="433.0" y2="762.0" stroke="#b5b5b7" stroke-width="1.5"/>
<line x1="741.7" x2="741.7" y1="433.0" y2="762.0" stroke="#8c8c8e" stroke-width="1.0"/>
<line x1="598.0" x2="876.2" y1="470.2" y2="470.2" stroke="#3b3331" stroke-width="1.6"/>
<rect x="598.0" y="433.0" width="278.20" height="329.00" fill="none" stroke="#3b3331" stroke-width="1.4"/>
<text class="hb" font-size="10.8" transform="translate(608.70,455.80) scale(0.932,1)" x="-8.69" y="0">No.</text>
<text class="hb" font-size="10.4" transform="translate(681.30,443.10) scale(1.016,1)" x="-28.60" y="0">Description</text>
<text class="hi" font-size="10.4" transform="translate(681.30,454.40) scale(0.959,1)" x="-29.77" y="0">Descripción</text>
<text class="hi" font-size="10.4" transform="translate(681.30,465.40) scale(0.988,1)" x="-28.60" y="0">Description</text>
<text class="hb" font-size="10.4" transform="translate(809.00,444.00) scale(1.068,1)" x="-19.66" y="0">Material</text>
<text class="hi" font-size="10.4" transform="translate(809.00,455.30) scale(1.063,1)" x="-19.75" y="0">Material</text>
<text class="hi" font-size="10.4" transform="translate(809.00,466.60) scale(1.046,1)" x="-19.75" y="0">Matériel</text>
<text class="n" font-size="10.5" transform="translate(608.70,490.71) scale(0.950,1)" x="-5.84" y="0">19</text>
<text class="e" font-size="10.3" transform="translate(681.30,480.60) scale(0.993,1)" x="-34.63" y="0">Terminal Board</text>
<text class="i" font-size="9.5" transform="translate(681.30,490.20) scale(1.013,1)" x="-32.04" y="0">Tablero Bornas</text>
<text class="i" font-size="9.5" transform="translate(681.30,499.70) scale(1.031,1)" x="-15.47" y="0">Bornier</text>
<text class="e" font-size="10.3" transform="translate(809.00,479.80) scale(0.923,1)" x="-15.17" y="0">Plastic</text>
<text class="i" font-size="9.5" transform="translate(809.00,489.40) scale(1.013,1)" x="-16.64" y="0">Plástico</text>
<text class="i" font-size="9.5" transform="translate(809.00,498.80) scale(1.018,1)" x="-19.55" y="0">Plastique</text>
<text class="n" font-size="10.5" transform="translate(608.70,523.13) scale(0.950,1)" x="-5.84" y="0">20</text>
<text class="e" font-size="10.3" transform="translate(681.30,512.70) scale(0.996,1)" x="-28.62" y="0">Impeller Key</text>
<text class="i" font-size="9.5" transform="translate(681.30,522.30) scale(1.034,1)" x="-17.69" y="0">Chaveta</text>
<text class="i" font-size="9.5" transform="translate(681.30,531.70) scale(0.947,1)" x="-7.12" y="0">Clé</text>
<text class="e" font-size="10.3" transform="translate(809.00,512.70) scale(0.998,1)" x="-8.87" y="0">Iron</text>
<text class="i" font-size="9.5" transform="translate(809.00,522.30) scale(1.028,1)" x="-12.93" y="0">Hierro</text>
<text class="i" font-size="9.5" transform="translate(809.00,531.70) scale(0.930,1)" x="-12.31" y="0">Le fer</text>
<text class="n" font-size="10.5" transform="translate(608.70,555.55) scale(0.950,1)" x="-5.84" y="0">21</text>
<text class="e" font-size="10.3" transform="translate(681.30,545.20) scale(1.012,1)" x="-35.59" y="0">Water Deflector</text>
<text class="i" font-size="9.5" transform="translate(681.30,554.80) scale(1.044,1)" x="-19.17" y="0">Deflector</text>
<text class="i" font-size="9.5" transform="translate(681.30,564.40) scale(1.025,1)" x="-21.81" y="0">Déflecteur</text>
<text class="e" font-size="10.3" transform="translate(809.00,545.20) scale(0.977,1)" x="-16.89" y="0">Rubber</text>
<text class="i" font-size="9.5" transform="translate(809.00,554.80) scale(1.029,1)" x="-16.38" y="0">Caucho</text>
<text class="i" font-size="9.5" transform="translate(809.00,564.60) scale(1.051,1)" x="-25.35" y="0">Caoutchouc</text>
<text class="n" font-size="10.5" transform="translate(608.70,587.97) scale(0.950,1)" x="-5.84" y="0">22</text>
<text class="e" font-size="10.3" transform="translate(681.30,577.20) scale(1.020,1)" x="-36.36" y="0">Connection Bolt</text>
<text class="i" font-size="9.5" transform="translate(681.30,586.80) scale(0.963,1)" x="-12.67" y="0">Perno</text>
<text class="i" font-size="9.5" transform="translate(681.30,596.40) scale(1.003,1)" x="-44.37" y="0">Boulon de connexion</text>
<text class="e" font-size="10.3" transform="translate(809.00,577.20) scale(0.920,1)" x="-11.74" y="0">Steel</text>
<text class="i" font-size="9.5" transform="translate(809.00,586.80) scale(0.980,1)" x="-12.17" y="0">Acero</text>
<text class="i" font-size="9.5" transform="translate(809.00,596.40) scale(0.962,1)" x="-10.75" y="0">Acier</text>
<text class="n" font-size="10.5" transform="translate(608.70,620.39) scale(0.950,1)" x="-5.84" y="0">23</text>
<text class="e" font-size="10.3" transform="translate(681.30,610.60) scale(1.027,1)" x="-27.76" y="0">Impeller Nut</text>
<text class="i" font-size="9.5" transform="translate(681.30,619.90) scale(0.987,1)" x="-11.09" y="0">Nuez</text>
<text class="i" font-size="9.5" transform="translate(681.30,629.70) scale(1.032,1)" x="-9.64" y="0">Noix</text>
<text class="e" font-size="10.3" transform="translate(809.00,610.60) scale(0.967,1)" x="-43.23" y="0">Galvanizated Steel</text>
<text class="i" font-size="9.5" transform="translate(809.00,619.90) scale(0.935,1)" x="-39.90" y="0">Acero Galvanizado</text>
<text class="i" font-size="9.5" transform="translate(809.00,629.20) scale(0.910,1)" x="-33.02" y="0">Acier Galvanisé</text>
<text class="n" font-size="10.5" transform="translate(608.70,652.81) scale(0.950,1)" x="-5.84" y="0">24</text>
<text class="e" font-size="10.3" transform="translate(681.30,641.80) scale(0.964,1)" x="-23.19" y="0">Discharge</text>
<text class="i" font-size="9.5" transform="translate(681.30,651.10) scale(1.016,1)" x="-20.33" y="0">Descarga</text>
<text class="i" font-size="9.5" transform="translate(681.30,660.70) scale(1.034,1)" x="-20.59" y="0">Décharge</text>
<text class="e" font-size="10.3" transform="translate(809.00,642.70) scale(0.970,1)" x="-20.61" y="0">Cast iron</text>
<text class="i" font-size="9.5" transform="translate(809.00,652.30) scale(1.056,1)" x="-20.59" y="0">Fundición</text>
<text class="i" font-size="9.5" transform="translate(809.00,661.70) scale(1.025,1)" x="-12.15" y="0">Fonte</text>
<text class="n" font-size="10.5" transform="translate(608.70,685.23) scale(0.950,1)" x="-5.84" y="0">25</text>
<text class="e" font-size="10.3" transform="translate(681.30,675.20) scale(0.944,1)" x="-22.52" y="0">Ball Valve</text>
<text class="i" font-size="9.5" transform="translate(681.30,684.80) scale(1.037,1)" x="-26.41" y="0">Válvula Bola</text>
<text class="i" font-size="9.5" transform="translate(681.30,694.40) scale(1.028,1)" x="-27.29" y="0">Vanne à bille</text>
<text class="e" font-size="10.3" transform="translate(809.00,675.00) scale(0.866,1)" x="-13.16" y="0">Brass</text>
<text class="i" font-size="9.5" transform="translate(809.00,684.80) scale(0.997,1)" x="-15.05" y="0">Bronce</text>
<text class="i" font-size="9.5" transform="translate(809.00,694.40) scale(1.074,1)" x="-12.94" y="0">Laiton</text>
<text class="n" font-size="10.5" transform="translate(608.70,717.65) scale(0.950,1)" x="-5.84" y="0">26</text>
<text class="e" font-size="10.3" transform="translate(681.30,706.20) scale(0.952,1)" x="-28.53" y="0">Check Valve</text>
<text class="i" font-size="9.5" transform="translate(681.30,715.70) scale(1.028,1)" x="-38.29" y="0">Válvula Retención</text>
<text class="i" font-size="9.5" transform="translate(681.30,725.30) scale(1.061,1)" x="-36.86" y="0">Clapet anti-retour</text>
<text class="e" font-size="10.3" transform="translate(809.00,707.60) scale(0.866,1)" x="-13.16" y="0">Brass</text>
<text class="i" font-size="9.5" transform="translate(809.00,717.20) scale(0.997,1)" x="-15.05" y="0">Bronce</text>
<text class="i" font-size="9.5" transform="translate(809.00,726.40) scale(1.074,1)" x="-12.94" y="0">Laiton</text>
<text class="n" font-size="10.5" transform="translate(608.70,750.07) scale(0.950,1)" x="-5.84" y="0">27</text>
<text class="e" font-size="10.3" transform="translate(681.30,739.50) scale(1.019,1)" x="-17.18" y="0">Suction</text>
<text class="i" font-size="9.5" transform="translate(681.30,749.00) scale(1.018,1)" x="-16.90" y="0">Succión</text>
<text class="i" font-size="9.5" transform="translate(681.30,758.40) scale(1.018,1)" x="-16.90" y="0">Succion</text>
<text class="e" font-size="10.3" transform="translate(809.00,739.50) scale(0.965,1)" x="-20.61" y="0">Cast iron</text>
<text class="i" font-size="9.5" transform="translate(809.00,749.00) scale(1.047,1)" x="-20.59" y="0">Fundición</text>
<text class="i" font-size="9.5" transform="translate(809.00,758.40) scale(1.041,1)" x="-12.15" y="0">Fonte</text>
</g>
</svg>
</body></html>
